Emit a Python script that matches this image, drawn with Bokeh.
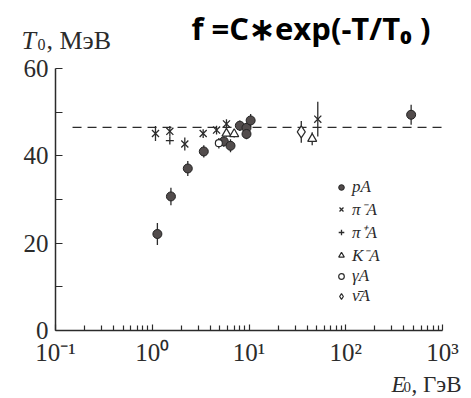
from bokeh.plotting import figure
from bokeh.models import (Range1d, FixedTicker, CustomJSTickFormatter, Label,
                          Legend, LegendItem)
from bokeh.embed import file_html
from bokeh.resources import INLINE

# ---- data ----
pA_E = [1.13, 1.56, 2.33, 3.41, 5.49, 6.44, 8.04, 9.42, 9.42, 10.4, 474]
pA_T = [22.1, 30.7, 37.1, 41.0, 43.3, 42.3, 46.9, 46.4, 45.0, 48.1, 49.4]
pA_err = [2.5, 2.0, 1.7, 1.4, 1.2, 1.5, 1.2, 1.2, 1.2, 1.5, 2.3]

pim_E = [1.08, 1.52, 2.17, 3.36, 4.62, 5.85, 51.4]
pim_T = [45.1, 45.6, 42.7, 45.1, 45.9, 47.3, 48.4]
pim_err = [1.7, 1.2, 1.5, 1.0, 1.0, 1.1, 4.0]

pip_E = [1.52]
pip_T = [43.5]

Km_E = [5.85, 7.03, 45.0]
Km_T = [45.1, 45.0, 43.9]
Km_err = [0.8, 0.8, 1.5]

gam_E = [4.88]
gam_T = [42.9]
gam_err = [1.2]

nub_E = [34.7]
nub_T = [45.5]
nub_err = [2.5]

fit_E = [0.150, 1000]
fit_T0 = 46.5

x_major = [0.1, 1, 10, 100, 1000]
y_major = [0, 20, 40, 60]
y_minor = [10, 30, 50]
legend_labels = ["pA", "π\u207BA", "π\u207AA", "K\u207BA", "γA", "ν\u0304A"]

# ---- layout: the frame fills the canvas, axes sit at fixed data positions ----
W, H = 471, 398
X0_PX, DEC_PX = 55.0, 96.75      # pixel of 10^-1 and pixels per decade
Y0_PX, UNIT_PX = 330.0, 4.367    # pixel of T=0 and pixels per MeV
x_lo = 10 ** (-1 - X0_PX / DEC_PX)
x_hi = 10 ** (-1 + (W - X0_PX) / DEC_PX)
y_lo = -(H - Y0_PX) / UNIT_PX
y_hi = Y0_PX / UNIT_PX

SERIF = "Liberation Serif"
INK = "#2b2b2b"

p = figure(width=W, height=H, x_axis_type="log",
           x_range=Range1d(x_lo, x_hi), y_range=Range1d(y_lo, y_hi),
           output_backend="svg", toolbar_location=None, min_border=0)
p.outline_line_color = None
p.grid.visible = False
p.background_fill_color = "white"
p.border_fill_color = "white"

minor_x = [m * d for d in [0.1, 1, 10, 100] for m in range(2, 10)]
p.xaxis.ticker = FixedTicker(ticks=x_major, minor_ticks=minor_x)
p.xaxis.formatter = CustomJSTickFormatter(code="""
const e = Math.round(Math.log10(tick));
const sup = {'-':'\u207B','0':'\u2070','1':'\u00B9','2':'\u00B2','3':'\u00B3'};
return '10' + String(e).split('').map(c => sup[c]).join('');
""")
p.yaxis.ticker = FixedTicker(ticks=y_major, minor_ticks=y_minor)
p.xaxis.fixed_location = 0
p.yaxis.fixed_location = 0.1
p.xaxis.bounds = (0.1, 1000)
p.yaxis.bounds = (0, 60)
for ax in (p.xaxis[0], p.yaxis[0]):
    ax.axis_line_color = INK
    ax.axis_line_width = 1.5
    ax.major_tick_line_color = INK
    ax.minor_tick_line_color = INK
    ax.major_tick_line_width = 1.2
    ax.minor_tick_line_width = 1.2
    ax.major_tick_out = 0
    ax.minor_tick_out = 0
    ax.major_label_text_font = SERIF
    ax.major_label_text_font_size = "25px"
    ax.major_label_text_color = INK
p.xaxis.major_tick_in = 6
p.xaxis.minor_tick_in = 5
p.yaxis.major_tick_in = 7
p.yaxis.minor_tick_in = 7
p.xaxis.major_label_standoff = 8
p.yaxis.major_label_standoff = 7

# fit line
p.line(fit_E, [fit_T0, fit_T0], line_color=INK, line_width=1.2, line_dash="9 6")

# error bars
def bars(E, T, err):
    p.segment(x0=E, x1=E, y0=[t - e for t, e in zip(T, err)],
              y1=[t + e for t, e in zip(T, err)], line_color=INK, line_width=1.3)

bars(pA_E, pA_T, pA_err)
bars(pim_E, pim_T, pim_err)
bars(Km_E, Km_T, Km_err)
bars(gam_E, gam_T, gam_err)
bars(nub_E, nub_T, nub_err)

r_pA = p.scatter(pA_E, pA_T, marker="circle", size=9, fill_color="#524c4c",
                 line_color="#222222", line_width=1)
r_pim = p.scatter(pim_E, pim_T, marker="x", size=10, line_color=INK, line_width=1.3)
r_pip = p.scatter(pip_E, pip_T, marker="cross", size=8, line_color=INK, line_width=1.3)
r_Km = p.scatter(Km_E, Km_T, marker="triangle", size=9, fill_color="white",
                 line_color=INK, line_width=1.2)
r_gam = p.scatter(gam_E, gam_T, marker="circle", size=7, fill_color="white",
                  line_color=INK, line_width=1.2)
r_nub = p.scatter(nub_E, nub_T, marker="diamond", size=12, fill_color="white",
                  line_color=INK, line_width=1.2)

legend = Legend(items=[LegendItem(label=l, renderers=[r]) for l, r in
                       zip(legend_labels, [r_pA, r_pim, r_pip, r_Km, r_gam, r_nub])],
                location=(334, 92), orientation="vertical",
                padding=0, margin=0, spacing=0,
                glyph_width=14, glyph_height=20, label_height=20, label_standoff=4,
                label_text_font=SERIF, label_text_font_style="italic",
                label_text_font_size="17px", label_text_line_height=1.0,
                label_text_color=INK,
                border_line_color=None, background_fill_alpha=0)
p.add_layout(legend, "center")

def lab(text, x, y, size, style="normal", font=SERIF):
    p.add_layout(Label(x=x, y=y, x_units="screen", y_units="screen", text=text,
                       text_font=font, text_font_size=size, text_font_style=style,
                       text_color=INK if font == SERIF else "black",
                       text_baseline="alphabetic", text_align="left"))

# y-axis title (top left)
lab("T", 21, 358, "26px", "italic")
lab("0", 37, 354, "16px")
lab(", МэВ", 46, 358, "26px")
# x-axis title (bottom right)
lab("E", 391, 14, "23px", "italic")
lab("0", 403, 11.5, "15px")
lab(", ГэВ", 411, 14, "23px")
# formula
lab("f =C\u2217exp(-T/T\u2080 )", 191, 371, "31px", "bold", "Open Sans")

open("out.html", "w").write(file_html(p, INLINE))
